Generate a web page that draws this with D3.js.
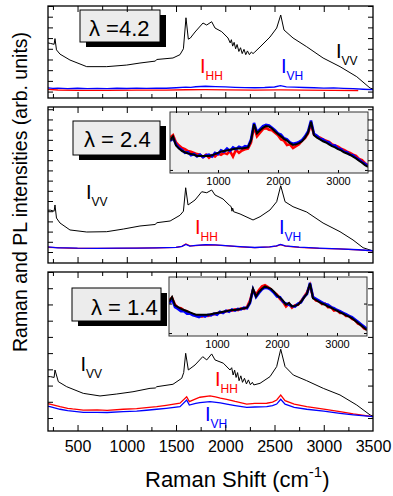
<!DOCTYPE html>
<html>
<head>
<meta charset="utf-8">
<script src="https://cdn.jsdelivr.net/npm/d3@7"></script>
<style>
  body { margin: 0; background: #fff; }
  svg { display: block; font-family: "Liberation Sans", Arial, sans-serif; }
</style>
</head>
<body>
<svg id="chart" width="393" height="496"></svg>
<script>
// tick labels and box texts
const xTickLabels = [500, 1000, 1500, 2000, 2500, 3000, 3500];
const insetTickLabels = [1000, 2000, 3000];
const lambdaLabels = ["λ =4.2", "λ = 2.4", "λ = 1.4"];

// panel 1 (lambda 4.2): [raman shift, intensity]
const vv1 = [[200,4.55],[225,4.5],[262,4.42],[271,4.95],[286,3.9],[322,3.5],[423,2.95],[593,2.33],[796,2.33],[999,2.48],[1134,2.67],[1290,2.85],[1304,3.0],[1469,3.14],[1540,3.45],[1575,4.0],[1601,6.9],[1625,4.9],[1645,5.0],[1693,5.57],[1774,6.41],[1811,6.22],[1862,6.53],[1896,5.94],[1964,5.6],[2028,5.01],[2050,4.55],[2062,4.85],[2075,4.25],[2090,4.6],[2105,4.0],[2120,4.4],[2138,3.75],[2155,4.1],[2172,3.55],[2190,3.95],[2208,3.45],[2225,3.8],[2245,3.45],[2265,3.7],[2282,3.55],[2300,3.7],[2353,4.17],[2454,5.1],[2522,5.94],[2563,7.16],[2596,5.76],[2688,5.01],[2827,4.19],[2993,3.14],[3165,2.33],[3335,1.39],[3470,0.33],[3500,0.24]];
const hh1 = [[200,0.2],[300,0.15],[500,0.12],[800,0.12],[1100,0.13],[1400,0.14],[1600,0.17],[1800,0.18],[2000,0.16],[2300,0.14],[2560,0.16],[2800,0.14],[3100,0.12],[3350,0.1]];
const vh1 = [[200,0.35],[250,0.3],[300,0.33],[400,0.28],[500,0.31],[600,0.27],[700,0.3],[800,0.28],[900,0.31],[1000,0.29],[1100,0.32],[1200,0.3],[1300,0.33],[1400,0.31],[1500,0.36],[1600,0.42],[1650,0.4],[1700,0.45],[1800,0.5],[1900,0.47],[2000,0.44],[2100,0.4],[2200,0.37],[2300,0.36],[2400,0.38],[2500,0.43],[2560,0.55],[2620,0.44],[2700,0.42],[2800,0.38],[2900,0.36],[3000,0.33],[3100,0.34],[3200,0.3],[3300,0.27],[3400,0.22],[3500,0.18]];

// panel 2 (lambda 2.4)
const vv2 = [[200,4.1],[225,4.1],[262,4.0],[271,4.61],[286,3.33],[322,2.84],[423,2.16],[593,1.96],[796,1.99],[965,2.25],[1134,2.55],[1290,2.7],[1304,2.87],[1440,3.04],[1540,3.6],[1575,4.0],[1598,6.3],[1622,4.61],[1693,5.1],[1761,5.91],[1812,5.81],[1862,6.08],[1896,5.59],[1977,5.2],[2040,4.6],[2060,4.45],[2068,4.0],[2075,4.3],[2085,3.95],[2150,3.73],[2282,3.14],[2353,3.46],[2454,4.12],[2522,4.93],[2563,6.5],[2607,4.93],[2688,4.44],[2827,3.92],[2993,2.84],[3165,1.99],[3297,1.18],[3399,0.42],[3500,0.1]];
const hh2 = [[200,0.45],[300,0.42],[400,0.38],[500,0.36],[700,0.35],[900,0.36],[1100,0.38],[1300,0.4],[1500,0.45],[1560,0.55],[1600,0.78],[1640,0.6],[1700,0.62],[1800,0.7],[1900,0.68],[2000,0.62],[2150,0.5],[2300,0.42],[2450,0.5],[2520,0.58],[2560,0.72],[2610,0.58],[2750,0.45],[2950,0.35],[3150,0.3],[3350,0.2],[3500,0.1]];
const vh2 = [[200,0.5],[300,0.4],[400,0.4],[500,0.37],[700,0.36],[900,0.38],[1100,0.37],[1300,0.41],[1500,0.46],[1560,0.55],[1600,0.74],[1640,0.58],[1700,0.64],[1800,0.71],[1900,0.69],[2000,0.63],[2150,0.52],[2300,0.44],[2450,0.5],[2520,0.6],[2560,0.74],[2610,0.6],[2750,0.47],[2950,0.37],[3150,0.31],[3350,0.22],[3500,0.12]];

// panel 3 (lambda 1.4)
const vv3 = [[200,2.55],[225,2.55],[262,2.5],[271,2.96],[305,2.24],[390,1.93],[558,1.52],[728,1.36],[898,1.48],[1063,1.62],[1236,1.83],[1290,1.85],[1304,1.93],[1469,2.08],[1558,2.45],[1578,2.8],[1598,3.99],[1625,2.96],[1693,3.27],[1771,3.78],[1812,3.58],[1862,3.95],[1896,3.58],[1980,3.38],[2048,2.96],[2065,3.1],[2080,2.65],[2095,2.95],[2110,2.5],[2125,2.8],[2140,2.3],[2158,2.6],[2175,2.2],[2195,2.45],[2215,2.1],[2235,2.35],[2255,2.05],[2275,2.2],[2290,2.04],[2353,2.14],[2454,2.55],[2522,3.17],[2563,4.24],[2607,3.17],[2691,2.65],[2827,2.3],[2995,1.83],[3165,1.42],[3335,0.8],[3470,0.19],[3500,0.12]];
const hh3 = [[200,0.88],[220,0.86],[322,0.7],[400,0.6],[450,0.56],[558,0.49],[700,0.5],[800,0.47],[965,0.54],[1100,0.58],[1200,0.64],[1304,0.7],[1400,0.78],[1540,0.91],[1608,1.31],[1635,1.01],[1700,1.18],[1743,1.28],[1845,1.36],[1900,1.3],[1950,1.22],[2015,1.15],[2100,1.02],[2218,0.86],[2300,0.9],[2421,0.91],[2480,0.98],[2522,1.11],[2563,1.42],[2607,1.07],[2700,0.85],[2827,0.7],[3000,0.55],[3165,0.39],[3300,0.25],[3500,0.08]];
const vh3 = [[200,0.72],[220,0.7],[322,0.54],[400,0.46],[558,0.35],[700,0.35],[800,0.34],[965,0.39],[1100,0.43],[1200,0.48],[1304,0.54],[1400,0.6],[1540,0.7],[1608,1.11],[1635,0.8],[1700,0.9],[1743,0.95],[1845,1.01],[1950,0.93],[2015,0.86],[2100,0.77],[2218,0.66],[2300,0.68],[2421,0.7],[2480,0.76],[2522,0.86],[2563,1.15],[2607,0.85],[2700,0.66],[2827,0.54],[3000,0.42],[3165,0.29],[3300,0.2],[3500,0.08]];

// insets: normalised spectra on a shared raman-shift grid
const insetX = [200,250,300,350,400,450,500,550,600,650,700,750,800,850,900,950,1000,1050,1100,1150,1200,1250,1300,1350,1400,1450,1500,1550,1600,1650,1700,1750,1800,1850,1900,1950,2000,2050,2100,2150,2200,2250,2300,2350,2400,2450,2500,2550,2600,2650,2700,2750,2800,2850,2900,2950,3000,3050,3100,3150,3200,3250,3300,3350,3400,3450,3500];
const inVV2 = [0.54,0.60,0.45,0.40,0.36,0.34,0.32,0.31,0.30,0.28,0.28,0.28,0.28,0.28,0.29,0.31,0.33,0.35,0.36,0.37,0.38,0.39,0.40,0.40,0.40,0.41,0.42,0.53,0.80,0.65,0.70,0.74,0.77,0.76,0.73,0.68,0.64,0.60,0.56,0.53,0.49,0.46,0.47,0.49,0.52,0.58,0.66,0.84,0.62,0.58,0.55,0.52,0.50,0.47,0.44,0.42,0.39,0.37,0.34,0.32,0.30,0.27,0.24,0.20,0.17,0.13,0.10];
const inHH2 = [0.58,0.62,0.50,0.45,0.41,0.39,0.36,0.35,0.33,0.31,0.30,0.26,0.30,0.25,0.29,0.27,0.32,0.30,0.33,0.31,0.36,0.27,0.38,0.33,0.37,0.39,0.40,0.50,0.76,0.60,0.66,0.72,0.74,0.71,0.70,0.66,0.62,0.55,0.53,0.46,0.47,0.41,0.44,0.47,0.53,0.57,0.65,0.80,0.63,0.60,0.58,0.55,0.53,0.51,0.47,0.45,0.43,0.40,0.38,0.35,0.33,0.30,0.28,0.23,0.21,0.16,0.13];
const inVH2 = [0.52,0.58,0.47,0.41,0.38,0.33,0.34,0.29,0.31,0.27,0.30,0.26,0.29,0.30,0.27,0.33,0.31,0.37,0.35,0.40,0.36,0.42,0.39,0.43,0.41,0.44,0.43,0.55,0.82,0.67,0.72,0.77,0.79,0.78,0.74,0.70,0.65,0.63,0.57,0.55,0.50,0.48,0.49,0.51,0.54,0.60,0.68,0.86,0.64,0.61,0.56,0.55,0.51,0.50,0.45,0.45,0.40,0.39,0.35,0.34,0.30,0.29,0.25,0.22,0.18,0.15,0.11];
const inVV3 = [0.58,0.66,0.52,0.49,0.46,0.44,0.42,0.40,0.38,0.36,0.36,0.36,0.36,0.36,0.37,0.38,0.39,0.40,0.41,0.42,0.43,0.44,0.44,0.45,0.46,0.47,0.48,0.57,0.80,0.67,0.75,0.80,0.84,0.82,0.80,0.75,0.69,0.65,0.60,0.53,0.56,0.50,0.51,0.53,0.58,0.65,0.72,0.89,0.64,0.61,0.58,0.55,0.53,0.50,0.48,0.45,0.43,0.40,0.38,0.35,0.33,0.30,0.26,0.22,0.18,0.14,0.10];
const inHH3 = [0.60,0.65,0.53,0.48,0.47,0.43,0.42,0.38,0.37,0.34,0.35,0.33,0.35,0.34,0.36,0.37,0.38,0.40,0.40,0.42,0.43,0.43,0.45,0.44,0.47,0.46,0.49,0.60,0.78,0.70,0.78,0.84,0.86,0.83,0.79,0.74,0.70,0.63,0.58,0.50,0.55,0.48,0.52,0.53,0.59,0.66,0.74,0.86,0.66,0.60,0.59,0.54,0.55,0.49,0.49,0.43,0.44,0.39,0.39,0.34,0.34,0.29,0.27,0.21,0.19,0.13,0.11];
const inVH3 = [0.55,0.62,0.49,0.46,0.42,0.42,0.38,0.38,0.35,0.34,0.32,0.35,0.33,0.36,0.35,0.38,0.36,0.41,0.39,0.43,0.41,0.45,0.43,0.46,0.45,0.48,0.47,0.56,0.79,0.66,0.73,0.79,0.82,0.81,0.78,0.73,0.67,0.66,0.58,0.55,0.53,0.51,0.50,0.55,0.57,0.66,0.71,0.90,0.66,0.63,0.60,0.57,0.54,0.53,0.49,0.47,0.44,0.42,0.39,0.37,0.34,0.32,0.28,0.24,0.20,0.16,0.12];

const RED = "#ff0000", BLUE = "#0000ff";
const fmt = d3.format("d");

const svg = d3.select("#chart");
const left = 48, right = 373;
const x = d3.scaleLinear().domain([200, 3500]).range([left, right]);
const minorX = d3.range(250, 3500, 250);

const panels = [
  { top: 6, bottom: 98, yDomain: [-0.6, 8], yMax: 8, vv: vv1, hh: hh1, vh: vh1,
    box: { x: 80, y: 10, w: 80, h: 32, tx: 89, ty: 36 },
    labels: [{ sub: "VV", c: "#000", x: 336, y: 58 }, { sub: "HH", c: RED, x: 200, y: 73 }, { sub: "VH", c: BLUE, x: 281, y: 73 }] },
  { top: 107, bottom: 263, yDomain: [-1.08, 14.22], yMax: 14, vv: vv2, hh: hh2, vh: vh2,
    box: { x: 73, y: 121, w: 87, h: 34, tx: 84, ty: 147 },
    labels: [{ sub: "VV", c: "#000", x: 86, y: 199 }, { sub: "HH", c: RED, x: 195, y: 234 }, { sub: "VH", c: BLUE, x: 279, y: 234 }],
    inset: { x0: 170, x1: 368, y0: 112, y1: 173, vv: inVV2, hh: inHH2, vh: inVH2 } },
  { top: 272, bottom: 431, yDomain: [-0.8, 9], yMax: 9, vv: vv3, hh: hh3, vh: vh3,
    box: { x: 72, y: 288, w: 89, h: 33, tx: 91, ty: 315 },
    labels: [{ sub: "VV", c: "#000", x: 80.5, y: 371 }, { sub: "HH", c: RED, x: 215, y: 386 }, { sub: "VH", c: BLUE, x: 205, y: 421 }],
    inset: { x0: 169, x1: 367, y0: 277, y1: 336, vv: inVV3, hh: inHH3, vh: inVH3 } }
];

const defs = svg.append("defs");

panels.forEach((p, i) => {
  const y = d3.scaleLinear().domain(p.yDomain).range([p.bottom, p.top]);
  const g = svg.append("g");

  defs.append("clipPath").attr("id", "clip" + i)
    .append("rect").attr("x", left).attr("y", p.top)
    .attr("width", right - left).attr("height", p.bottom - p.top);

  const line = d3.line().x(d => x(d[0])).y(d => y(d[1]));
  const plot = g.append("g").attr("clip-path", `url(#clip${i})`);
  plot.append("path").datum(p.vv).attr("d", line)
    .attr("fill", "none").attr("stroke", "#000").attr("stroke-width", 1);
  plot.append("path").datum(p.hh).attr("d", line)
    .attr("fill", "none").attr("stroke", RED).attr("stroke-width", 1.3);
  plot.append("path").datum(p.vh).attr("d", line)
    .attr("fill", "none").attr("stroke", BLUE).attr("stroke-width", 1.3);

  // inset
  if (p.inset) {
    const s = p.inset;
    const ix = d3.scaleLinear().domain([200, 3500]).range([s.x0, s.x1]);
    const iy = d3.scaleLinear().domain([0, 1]).range([s.y1, s.y0]);
    const ig = g.append("g");
    ig.append("rect").attr("x", s.x0).attr("y", s.y0)
      .attr("width", s.x1 - s.x0).attr("height", s.y1 - s.y0)
      .attr("fill", "#f0f0f0");
    defs.append("clipPath").attr("id", "iclip" + i)
      .append("rect").attr("x", s.x0).attr("y", s.y0)
      .attr("width", s.x1 - s.x0).attr("height", s.y1 - s.y0);
    const iline = d3.line().x((d, k) => ix(insetX[k])).y(d => iy(d));
    const ic = ig.append("g").attr("clip-path", `url(#iclip${i})`);
    ic.append("path").datum(s.hh).attr("d", iline)
      .attr("fill", "none").attr("stroke", RED).attr("stroke-width", 2.6);
    ic.append("path").datum(s.vh).attr("d", iline)
      .attr("fill", "none").attr("stroke", BLUE).attr("stroke-width", 2.6);
    ic.append("path").datum(s.vv).attr("d", iline)
      .attr("fill", "none").attr("stroke", "#000").attr("stroke-width", 2);

    const iTicks = [500, 1000, 1500, 2000, 2500, 3000];
    ig.append("g").attr("transform", `translate(0,${s.y1})`)
      .call(d3.axisTop(ix).tickValues(iTicks).tickSize(3).tickFormat(""))
      .call(a => a.select(".domain").remove());
    ig.append("g").attr("transform", `translate(0,${s.y0})`)
      .call(d3.axisBottom(ix).tickValues(iTicks).tickSize(3).tickFormat(""))
      .call(a => a.select(".domain").remove());
    ig.append("g").attr("transform", `translate(${s.x0},0)`)
      .call(d3.axisRight(iy).tickValues([0.05, 0.55]).tickSize(3).tickFormat(""))
      .call(a => a.select(".domain").remove());
    ig.append("g").attr("transform", `translate(${s.x1},0)`)
      .call(d3.axisLeft(iy).tickValues([0.05, 0.55]).tickSize(3).tickFormat(""))
      .call(a => a.select(".domain").remove());
    ig.append("g").attr("transform", `translate(0,${s.y1})`)
      .call(d3.axisBottom(ix).tickValues(insetTickLabels).tickSize(0).tickPadding(3.7).tickFormat(fmt))
      .call(a => a.select(".domain").remove())
      .selectAll("text").attr("font-size", 11).attr("font-family", null).attr("fill", "#000");
    ig.append("rect").attr("x", s.x0).attr("y", s.y0)
      .attr("width", s.x1 - s.x0).attr("height", s.y1 - s.y0)
      .attr("fill", "none").attr("stroke", "#333").attr("stroke-width", 1);
  }

  // lambda box with drop shadow
  const b = p.box;
  g.append("rect").attr("x", b.x + 6).attr("y", b.y + 5).attr("width", b.w).attr("height", b.h).attr("fill", "#000");
  g.append("rect").attr("x", b.x).attr("y", b.y).attr("width", b.w).attr("height", b.h)
    .attr("fill", "#ececec").attr("stroke", "#000").attr("stroke-width", 1);
  g.append("text").attr("x", b.tx).attr("y", b.ty).attr("font-size", 22).text(lambdaLabels[i]);

  // polarisation labels
  p.labels.forEach(l => {
    const t = g.append("text").attr("x", l.x).attr("y", l.y).attr("fill", l.c).attr("font-size", 20).text("I");
    t.append("tspan").attr("dy", 7).attr("font-size", 12).text(l.sub);
  });

  // frame ticks, all inward
  const yTicks = d3.range(0, p.yMax + 1);
  const axes = [
    [d3.axisTop(x).tickValues(minorX.filter(v => v % 500 === 0)).tickSize(6), `translate(0,${p.bottom})`],
    [d3.axisTop(x).tickValues(minorX.filter(v => v % 500 !== 0)).tickSize(4), `translate(0,${p.bottom})`],
    [d3.axisBottom(x).tickValues(minorX.filter(v => v % 500 === 0)).tickSize(6), `translate(0,${p.top})`],
    [d3.axisBottom(x).tickValues(minorX.filter(v => v % 500 !== 0)).tickSize(4), `translate(0,${p.top})`],
    [d3.axisRight(y).tickValues(yTicks).tickSize(5), `translate(${left},0)`],
    [d3.axisLeft(y).tickValues(yTicks).tickSize(5), `translate(${right},0)`]
  ];
  axes.forEach(([ax, tr]) => {
    g.append("g").attr("transform", tr).call(ax.tickFormat(""))
      .call(a => a.select(".domain").remove())
      .selectAll("line").attr("stroke", "#000");
  });

  g.append("rect").attr("x", left).attr("y", p.top)
    .attr("width", right - left).attr("height", p.bottom - p.top)
    .attr("fill", "none").attr("stroke", "#000").attr("stroke-width", 1.3);
});

// x tick labels below last panel
svg.append("g").attr("transform", `translate(0,${panels[2].bottom})`)
  .call(d3.axisBottom(x).tickValues(xTickLabels).tickSize(0).tickPadding(9.6).tickFormat(fmt))
  .call(a => a.select(".domain").remove())
  .selectAll("text").attr("font-size", 16).attr("font-family", null).attr("fill", "#000");

// axis titles
const xt = svg.append("text").attr("x", 145).attr("y", 487).attr("font-size", 22).attr("fill", "#000")
  .text("Raman Shift (cm");
xt.append("tspan").attr("dy", -10).attr("font-size", 15).text("-1");
xt.append("tspan").attr("dy", 10).text(")");

svg.append("text")
  .attr("transform", "translate(27,192) rotate(-90)")
  .attr("text-anchor", "middle").attr("font-size", 19.5).attr("fill", "#000")
  .text("Raman and PL intensities (arb. units)");
</script>
</body>
</html>
